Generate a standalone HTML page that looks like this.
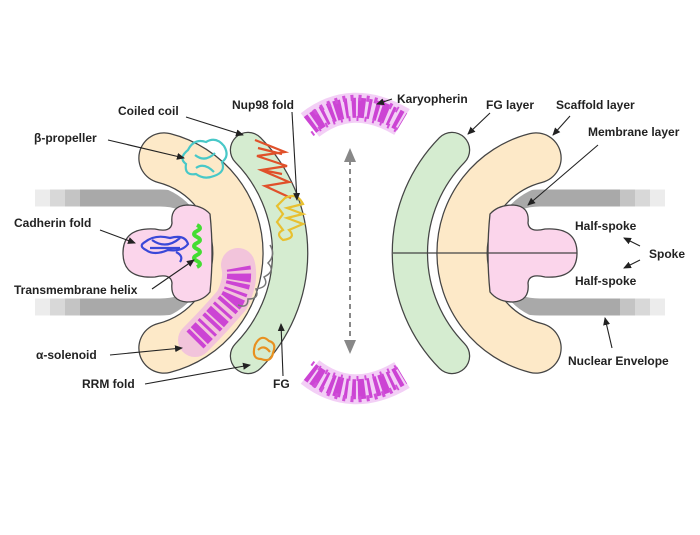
<!DOCTYPE html>
<html><head><meta charset="utf-8"><style>
html,body{margin:0;padding:0;background:#fff}
svg{display:block}
text{font-family:"Liberation Sans",sans-serif;font-weight:bold;font-size:12px;fill:#222}
</style></head><body>
<svg width="700" height="535" viewBox="0 0 700 535" xmlns="http://www.w3.org/2000/svg">
<defs>
<marker id="a" markerWidth="8" markerHeight="8" refX="7" refY="4" orient="auto" markerUnits="userSpaceOnUse"><path d="M0,0.5 L8,4 L0,7.5 Z" fill="#222"/></marker>
<g id="side">
  <path d="M505,216 Q512,198 540,198 L620,198" stroke="#a9a9a9" stroke-width="17" fill="none"/>
  <rect x="620" y="189.5" width="15" height="17" fill="#c4c4c4"/><rect x="635" y="189.5" width="15" height="17" fill="#d8d8d8"/><rect x="650" y="189.5" width="15" height="17" fill="#ececec"/>
  <path d="M505,290 Q512,307 540,307 L620,307" stroke="#a9a9a9" stroke-width="17" fill="none"/>
  <rect x="620" y="298.5" width="15" height="17" fill="#c4c4c4"/><rect x="635" y="298.5" width="15" height="17" fill="#d8d8d8"/><rect x="650" y="298.5" width="15" height="17" fill="#ececec"/>
  <path d="M452,150 A147,147 0 0 0 452,356" stroke="#444" stroke-width="36.5" stroke-linecap="round" fill="none"/>
  <path d="M452,150 A147,147 0 0 0 452,356" stroke="#d5ecd0" stroke-width="34" stroke-linecap="round" fill="none"/>
  <path d="M536,158 A98,98 0 0 0 536,348" stroke="#fff" stroke-width="58" stroke-linecap="round" fill="none"/>
  <path d="M536,158 A98,98 0 0 0 536,348" stroke="#444" stroke-width="51.5" stroke-linecap="round" fill="none"/>
  <path d="M536,158 A98,98 0 0 0 536,348" stroke="#fde9c8" stroke-width="49" stroke-linecap="round" fill="none"/>
  <path d="M490,214 Q498,205 513,205 Q530,206 528,223 Q529,233 545,229 Q577,227 577,253 Q577,279 545,277 Q529,273 528,283 Q530,301 513,302 Q498,302 490,292 Q486,253 490,214 Z" fill="#fbd5eb" stroke="#444" stroke-width="1.3"/>
</g>
<g id="kar">
  <path d="M310,125 Q352,92 402,122" stroke="#e8a0ee" stroke-width="30" stroke-opacity="0.5" fill="none"/>
  <path d="M310,125 Q352,92 402,122" stroke="#cc44d4" stroke-width="20" stroke-dasharray="4,2,7,3,3,4" fill="none"/>
  <path d="M314,113 Q352,84 398,110" stroke="#d050d8" stroke-width="6" stroke-dasharray="3,5" fill="none"/>
  <path d="M312,134 Q352,104 400,132" stroke="#d050d8" stroke-width="5" stroke-dasharray="2,6" fill="none"/>
</g>
</defs>
<use href="#side"/>
<line x1="393" y1="253" x2="577" y2="253" stroke="#444" stroke-width="1.2"/>
<g transform="translate(700,0) scale(-1,1)"><use href="#side"/></g>

<g fill="none" stroke-width="2.2">
<path d="M188,150 q6,-12 18,-8 q10,-6 18,4 q6,10 -2,16 q4,10 -8,14 q-10,4 -18,-2 q-12,2 -10,-10 q-8,-6 2,-14 z M195,155 q10,8 20,-2 M196,168 q8,-6 18,4" stroke="#48c8c8"/>
<path d="M255,140 l30,12 l-28,4 l30,10 l-26,4 l28,12 l-24,4 l26,12 M258,148 l24,6 M262,170 l20,4" stroke="#e0502a"/>
<path d="M285,198 q12,-6 18,6 l-16,4 l16,6 l-16,4 l16,6 l-14,6 q8,8 -6,10 q-8,-6 0,-10 l-6,-8 l6,-8 l-6,-8 z" stroke="#e8c030"/>
<path d="M197,225 q6,3 0,6 q-6,3 0,6 q6,3 0,6 q-6,3 0,6 q6,3 0,6 q-6,3 0,6 q6,3 0,6" stroke="#44dd33" stroke-width="4"/>
<path d="M145,242 q10,-8 25,-4 q15,-4 18,6 q-6,8 -20,6 q-14,6 -22,0 q-8,-4 -1,-8 z M150,248 l30,0 M152,240 q14,10 28,-2 M176,252 q8,4 4,10" stroke="#3a48d8"/>
</g>
<path d="M195,340 Q215,320 232,300 Q242,280 238,265" stroke="#e8a0ee" stroke-width="34" stroke-opacity="0.5" fill="none" stroke-linecap="round"/>
<path d="M195,340 Q215,320 232,300 Q242,280 238,265" stroke="#cc44d4" stroke-width="24" stroke-dasharray="4,2,7,3,3,4" fill="none"/>
<g fill="none" stroke-width="1.5">
<path d="M270,245 q6,10 -2,18 q8,8 -4,14 q6,10 -8,12 q4,10 -8,10 q0,10 -10,6" stroke="#777"/>
<path d="M255,345 q6,-12 14,-4 q8,2 4,12 q-2,10 -12,6 q-10,0 -6,-14 z M258,350 q6,-6 12,2" stroke="#e89020" stroke-width="2.2"/>
</g>
<use href="#kar"/>
<g transform="translate(0,497) scale(1,-1)"><use href="#kar"/></g>

<line x1="350" y1="160" x2="350" y2="342" stroke="#888" stroke-width="2" stroke-dasharray="5,4"/>
<path d="M344,162 L350,148 L356,162 Z M344,340 L350,354 L356,340 Z" fill="#888"/>

<text x="397" y="103">Karyopherin</text>
<text x="486" y="109">FG layer</text>
<text x="556" y="109">Scaffold layer</text>
<text x="588" y="136">Membrane layer</text>
<text x="575" y="230">Half-spoke</text>
<text x="649" y="258">Spoke</text>
<text x="575" y="285">Half-spoke</text>
<text x="568" y="365">Nuclear Envelope</text>
<text x="118" y="115">Coiled coil</text>
<text x="232" y="109">Nup98 fold</text>
<text x="34" y="142">β-propeller</text>
<text x="14" y="227">Cadherin fold</text>
<text x="14" y="294">Transmembrane helix</text>
<text x="36" y="359">α-solenoid</text>
<text x="82" y="388">RRM fold</text>
<text x="273" y="388">FG</text>

<g stroke="#222" stroke-width="1.1" fill="none" marker-end="url(#a)">
<line x1="392" y1="99" x2="377" y2="104"/>
<line x1="490" y1="113" x2="468" y2="134"/>
<line x1="570" y1="116" x2="553" y2="135"/>
<line x1="598" y1="145" x2="528" y2="205"/>
<line x1="640" y1="246" x2="624" y2="238"/>
<line x1="640" y1="260" x2="624" y2="268"/>
<line x1="612" y1="348" x2="605" y2="318"/>
<line x1="186" y1="117" x2="243" y2="135"/>
<line x1="292" y1="112" x2="297" y2="200"/>
<line x1="108" y1="140" x2="184" y2="158"/>
<line x1="100" y1="230" x2="135" y2="243"/>
<line x1="152" y1="289" x2="194" y2="260"/>
<line x1="110" y1="355" x2="182" y2="348"/>
<line x1="145" y1="384" x2="250" y2="365"/>
<line x1="283" y1="376" x2="281" y2="324"/>
</g>
</svg>
</body></html>
